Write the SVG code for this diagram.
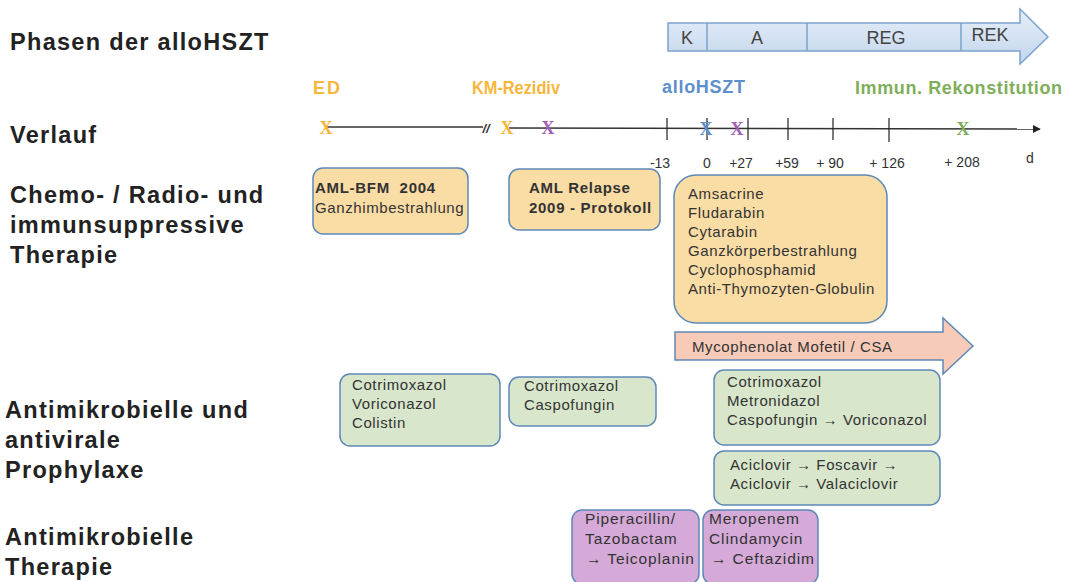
<svg xmlns="http://www.w3.org/2000/svg" width="1067" height="582" viewBox="0 0 1067 582">
<defs>
<linearGradient id="phaseGrad" x1="0" y1="0" x2="0" y2="1">
<stop offset="0" stop-color="#e6eef8"/>
<stop offset="1" stop-color="#c3d6ec"/>
</linearGradient>
<marker id="axisArrow" viewBox="0 0 10 10" refX="9" refY="5" markerWidth="8" markerHeight="8" markerUnits="userSpaceOnUse" orient="auto">
<path d="M0,0 L10,5 L0,10 z" fill="#222"/>
</marker>
</defs>
<style>
.lbl{font-family:"Liberation Sans",Arial,sans-serif;font-weight:bold;font-size:23.5px;letter-spacing:1.3px;fill:#222}
.t{font-family:"Liberation Sans",Arial,sans-serif;font-size:15px;letter-spacing:0.6px;fill:#333}
.tp{font-family:"Liberation Sans",Arial,sans-serif;font-size:15.5px;letter-spacing:0.9px;fill:#333}
.tb{font-family:"Liberation Sans",Arial,sans-serif;font-size:15px;letter-spacing:0.7px;font-weight:bold;fill:#333}
.ph{font-family:"Liberation Sans",Arial,sans-serif;font-size:18px;fill:#444}
.ev{font-family:"Liberation Sans",Arial,sans-serif;font-size:18px;font-weight:bold}
.x{font-family:"Liberation Serif","Times New Roman",serif;font-size:18px;font-weight:bold;text-anchor:middle}
.num{font-family:"Liberation Sans",Arial,sans-serif;font-size:14px;fill:#333}
.or{fill:#fadca5;stroke:#5e88b8;stroke-width:1.5}
.gr{fill:#d8e6cc;stroke:#5e88b8;stroke-width:1.5}
.pu{fill:#d5aad8;stroke:#5e88b8;stroke-width:1.5}
.tick{stroke:#222;stroke-width:1.2}
</style>
<rect width="1067" height="582" fill="#fff"/>

<g id="row-labels">
<text class="lbl" x="10" y="50">Phasen der alloHSZT</text>
<text class="lbl" x="10" y="143">Verlauf</text>
<text class="lbl" x="10" y="203">Chemo- / Radio- und</text>
<text class="lbl" x="10" y="233">immunsuppressive</text>
<text class="lbl" x="10" y="263">Therapie</text>
<text class="lbl" x="5" y="418">Antimikrobielle und</text>
<text class="lbl" x="5" y="448">antivirale</text>
<text class="lbl" x="5" y="478">Prophylaxe</text>
<text class="lbl" x="5" y="545">Antimikrobielle</text>
<text class="lbl" x="5" y="575">Therapie</text>
</g>

<g id="phases">
<path d="M668,23 L1020,23 L1020,9 L1048,37 L1020,64 L1020,51 L668,51 Z" fill="url(#phaseGrad)" stroke="#7aa3cf" stroke-width="1.5"/>
<line x1="707" y1="23" x2="707" y2="51" stroke="#7aa3cf" stroke-width="1.5"/>
<line x1="807" y1="23" x2="807" y2="51" stroke="#7aa3cf" stroke-width="1.5"/>
<line x1="961" y1="23" x2="961" y2="51" stroke="#7aa3cf" stroke-width="1.5"/>
<text class="ph" x="687" y="44" text-anchor="middle">K</text>
<text class="ph" x="757" y="44" text-anchor="middle">A</text>
<text class="ph" x="886" y="44" text-anchor="middle">REG</text>
<text class="ph" x="990" y="41" text-anchor="middle">REK</text>
</g>

<g id="events">
<text class="ev" x="313" y="94" fill="#f6b73c" textLength="27">ED</text>
<text class="ev" x="472" y="94" fill="#f6b73c" textLength="88" lengthAdjust="spacingAndGlyphs">KM-Rezidiv</text>
<text class="ev" x="662" y="93" fill="#5d8fcc" textLength="83">alloHSZT</text>
<text class="ev" x="855" y="94" fill="#7fae5a" textLength="207">Immun. Rekonstitution</text>
</g>

<g id="timeline">
<line x1="327" y1="127" x2="483" y2="127" stroke="#333" stroke-width="1.5"/>
<text x="486" y="133" font-family="Liberation Sans,Arial,sans-serif" font-size="13" font-style="italic" font-weight="bold" fill="#333" text-anchor="middle">//</text>
<line x1="509" y1="128" x2="1040" y2="129" stroke="#333" stroke-width="1.5" marker-end="url(#axisArrow)"/>
<line class="tick" x1="667" y1="118" x2="667" y2="140"/>
<line class="tick" x1="707" y1="118" x2="707" y2="140"/>
<line class="tick" x1="748" y1="118" x2="748" y2="140"/>
<line class="tick" x1="788" y1="118" x2="788" y2="140"/>
<line class="tick" x1="833" y1="118" x2="833" y2="140"/>
<line class="tick" x1="889" y1="118" x2="889" y2="142"/>
<text class="x" x="326" y="134" fill="#f6b73c">X</text>
<text class="x" x="507" y="134" fill="#f6b73c">X</text>
<text class="x" x="548" y="134" fill="#a25db6">X</text>
<text class="x" x="706" y="135" fill="#5d8fcc">X</text>
<text class="x" x="737" y="135" fill="#a25db6">X</text>
<text class="x" x="963" y="135" fill="#7fae5a">X</text>
<text class="num" x="660" y="168" text-anchor="middle">-13</text>
<text class="num" x="707" y="168" text-anchor="middle">0</text>
<text class="num" x="741" y="168" text-anchor="middle">+27</text>
<text class="num" x="787" y="168" text-anchor="middle">+59</text>
<text class="num" x="830" y="168" text-anchor="middle">+ 90</text>
<text class="num" x="887" y="168" text-anchor="middle">+ 126</text>
<text class="num" x="962" y="167" text-anchor="middle" fill="#7fae5a">+ 208</text>
<text class="num" x="1030" y="163" text-anchor="middle">d</text>
</g>

<g id="connectors"></g>

<g id="aml-bfm">
<rect class="or" x="313" y="168" width="155" height="66" rx="10"/>
<text class="tb" x="315" y="193">AML-BFM&#160; 2004</text>
<text class="t" x="315" y="213">Ganzhimbestrahlung</text>
</g>

<g id="aml-relapse">
<rect class="or" x="509" y="169" width="151" height="61" rx="10"/>
<text class="tb" x="529" y="193">AML Relapse</text>
<text class="tb" x="529" y="213">2009 - Protokoll</text>
</g>

<g id="conditioning">
<rect class="or" x="674" y="175" width="213" height="148" rx="22"/>
<text class="t" x="688" y="199">Amsacrine</text>
<text class="t" x="688" y="218">Fludarabin</text>
<text class="t" x="688" y="237">Cytarabin</text>
<text class="t" x="688" y="256">Ganzkörperbestrahlung</text>
<text class="t" x="688" y="275">Cyclophosphamid</text>
<text class="t" x="688" y="294">Anti-Thymozyten-Globulin</text>
</g>

<g id="mmf-csa">
<path d="M675,332 L943,332 L943,318 L973,346 L943,374 L943,360 L675,360 Z" fill="#f8cbb9" stroke="#5e88b8" stroke-width="1.5"/>
<text class="t" x="692" y="352">Mycophenolat Mofetil / CSA</text>
</g>

<g id="prophylaxis-1">
<rect class="gr" x="340" y="374" width="160" height="72" rx="10"/>
<text class="t" x="352" y="390">Cotrimoxazol</text>
<text class="t" x="352" y="409">Voriconazol</text>
<text class="t" x="352" y="428">Colistin</text>
</g>

<g id="prophylaxis-2">
<rect class="gr" x="509" y="377" width="147" height="49" rx="10"/>
<text class="t" x="524" y="391">Cotrimoxazol</text>
<text class="t" x="524" y="410">Caspofungin</text>
</g>

<g id="prophylaxis-3">
<rect class="gr" x="714" y="370" width="226" height="75" rx="10"/>
<text class="t" x="727" y="387">Cotrimoxazol</text>
<text class="t" x="727" y="406">Metronidazol</text>
<text class="t" x="727" y="425">Caspofungin → Voriconazol</text>
</g>

<g id="prophylaxis-4">
<rect class="gr" x="714" y="451" width="226" height="54" rx="10"/>
<text class="t" x="730" y="470">Aciclovir → Foscavir →</text>
<text class="t" x="730" y="489">Aciclovir → Valaciclovir</text>
</g>

<g id="therapy-1">
<rect class="pu" x="572" y="510" width="127" height="74" rx="10"/>
<text class="tp" x="585" y="524">Piperacillin/</text>
<text class="tp" x="585" y="544">Tazobactam</text>
<text class="tp" x="586" y="564">→ Teicoplanin</text>
</g>

<g id="therapy-2">
<rect class="pu" x="703" y="510" width="115" height="74" rx="10"/>
<text class="tp" x="709" y="524">Meropenem</text>
<text class="tp" x="709" y="544">Clindamycin</text>
<text class="tp" x="711" y="564">→ Ceftazidim</text>
</g>
</svg>
